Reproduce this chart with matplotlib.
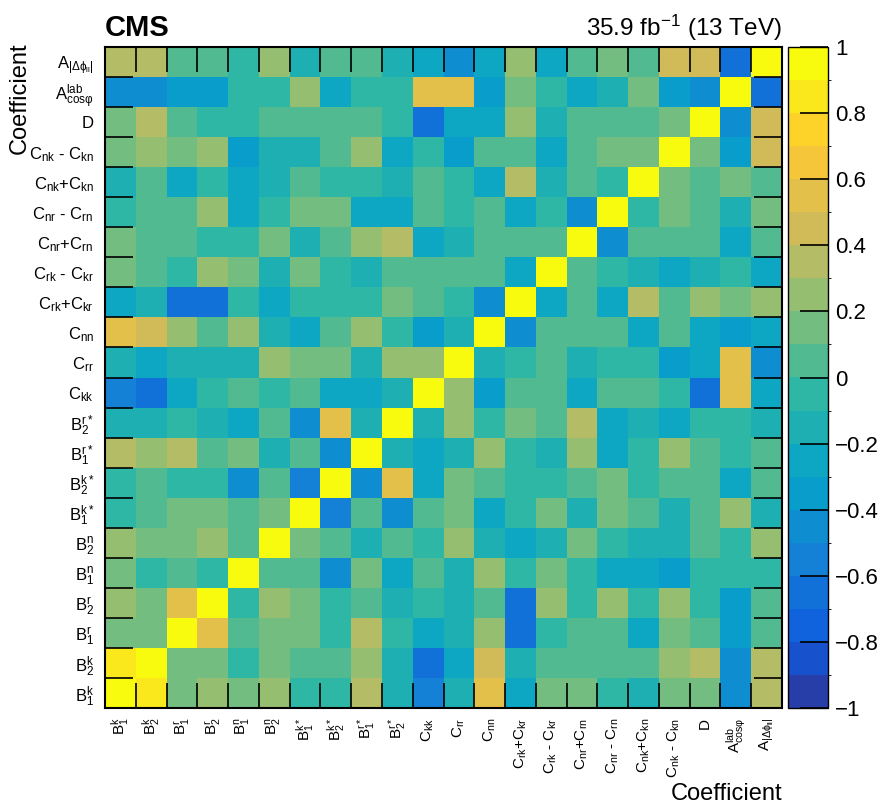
import numpy as np
import matplotlib
matplotlib.use("Agg")
import matplotlib.pyplot as plt
from matplotlib.colors import ListedColormap, BoundaryNorm

plt.rcParams['font.family'] = ['Liberation Sans', 'DejaVu Sans']
plt.rcParams['mathtext.fontset'] = 'custom'
plt.rcParams['mathtext.rm'] = 'Liberation Sans'
plt.rcParams['mathtext.it'] = 'Liberation Sans:italic'
plt.rcParams['mathtext.bf'] = 'Liberation Sans:bold'
plt.rcParams['mathtext.default'] = 'rm'

x_labels = [r'$B^{k}_{1}$', r'$B^{k}_{2}$', r'$B^{r}_{1}$', r'$B^{r}_{2}$',
            r'$B^{n}_{1}$', r'$B^{n}_{2}$', r'$B^{k*}_{1}$', r'$B^{k*}_{2}$',
            r'$B^{r*}_{1}$', r'$B^{r*}_{2}$', r'$C_{kk}$', r'$C_{rr}$', r'$C_{nn}$',
            r'$C_{rk}$+$C_{kr}$', r'$C_{rk}$ - $C_{kr}$', r'$C_{nr}$+$C_{rn}$',
            r'$C_{nr}$ - $C_{rn}$', r'$C_{nk}$+$C_{kn}$', r'$C_{nk}$ - $C_{kn}$',
            'D', r'$A^{lab}_{cos\varphi}$', r'$A_{|\Delta\phi_{ll}|}$']
y_labels = x_labels

row_B1k = [1, 0.85, 0.15, 0.25, 0.15, 0.25, -0.05, -0.05, 0.35, -0.15, -0.55, -0.15, 0.55, -0.25, 0.15, 0.15, -0.05, -0.15, 0.15, 0.15, -0.45, 0.35]
row_B2k = [0.85, 1, 0.15, 0.15, -0.05, 0.15, 0.05, 0.05, 0.25, -0.15, -0.65, -0.25, 0.45, -0.15, 0.05, 0.05, 0.05, 0.05, 0.25, 0.35, -0.45, 0.35]
row_B1r = [0.15, 0.15, 1, 0.55, 0.05, 0.15, 0.15, -0.05, 0.35, -0.05, -0.25, -0.15, 0.25, -0.65, -0.05, 0.05, 0.05, -0.25, 0.15, 0.05, -0.35, 0.05]
row_B2r = [0.25, 0.15, 0.55, 1, -0.05, 0.25, 0.15, -0.05, 0.05, -0.15, -0.05, -0.15, 0.05, -0.65, 0.25, -0.05, 0.25, -0.05, 0.25, -0.05, -0.35, 0.05]
row_B1n = [0.15, -0.05, 0.05, -0.05, 1, 0.05, 0.05, -0.45, 0.15, -0.25, 0.05, -0.15, 0.25, -0.05, 0.15, -0.05, -0.25, -0.25, -0.35, -0.05, -0.05, -0.05]
row_B2n = [0.25, 0.15, 0.15, 0.25, 0.05, 1, 0.15, 0.05, -0.15, 0.05, -0.05, 0.25, -0.15, -0.25, -0.15, 0.15, -0.05, -0.15, -0.15, 0.05, -0.05, 0.25]
row_B1ks = [-0.05, 0.05, 0.15, 0.15, 0.05, 0.15, 1, -0.55, 0.05, -0.45, 0.05, 0.15, -0.25, -0.05, 0.15, -0.15, 0.15, 0.05, -0.15, 0.05, 0.25, -0.15]
row_B2ks = [-0.05, 0.05, -0.05, -0.05, -0.45, 0.05, -0.55, 1, -0.45, 0.55, -0.25, 0.15, 0.05, -0.05, -0.05, 0.05, 0.15, -0.05, 0.05, 0.05, -0.25, 0.05]
row_B1rs = [0.35, 0.25, 0.35, 0.05, 0.15, -0.15, 0.05, -0.45, 1, -0.15, -0.25, -0.15, 0.25, -0.05, -0.15, 0.25, -0.25, -0.05, 0.25, 0.05, -0.05, 0.05]
row_B2rs = [-0.15, -0.15, -0.05, -0.15, -0.25, 0.05, -0.45, 0.55, -0.15, 1, -0.15, 0.25, -0.05, 0.15, 0.05, 0.35, -0.25, -0.15, -0.25, -0.05, -0.05, -0.15]
row_Ckk = [-0.55, -0.65, -0.25, -0.05, 0.05, -0.05, 0.05, -0.25, -0.25, -0.15, 1, 0.25, -0.35, 0.05, 0.05, -0.25, 0.05, 0.05, -0.05, -0.65, 0.55, -0.25]
row_Crr = [-0.15, -0.25, -0.15, -0.15, -0.15, 0.25, 0.15, 0.15, -0.15, 0.25, 0.25, 1, -0.15, -0.05, 0.05, -0.15, -0.05, -0.05, -0.35, -0.25, 0.55, -0.45]
row_Cnn = [0.55, 0.45, 0.25, 0.05, 0.25, -0.15, -0.25, 0.05, 0.25, -0.05, -0.35, -0.15, 1, -0.45, 0.05, 0.05, 0.05, -0.25, 0.05, -0.25, -0.35, -0.25]
row_CrkP = [-0.25, -0.15, -0.65, -0.65, -0.05, -0.25, -0.05, -0.05, -0.05, 0.15, 0.05, -0.05, -0.45, 1, -0.25, 0.05, -0.25, 0.35, 0.05, 0.25, 0.15, 0.25]
row_CrkM = [0.15, 0.05, -0.05, 0.25, 0.15, -0.15, 0.15, -0.05, -0.15, 0.05, 0.05, 0.05, 0.05, -0.25, 1, 0.05, -0.05, -0.15, -0.25, -0.15, -0.05, -0.25]
row_CnrP = [0.15, 0.05, 0.05, -0.05, -0.05, 0.15, -0.15, 0.05, 0.25, 0.35, -0.25, -0.15, 0.05, 0.05, 0.05, 1, -0.45, 0.05, 0.05, 0.05, -0.25, 0.05]
row_CnrM = [-0.05, 0.05, 0.05, 0.25, -0.25, -0.05, 0.15, 0.15, -0.25, -0.25, 0.05, -0.05, 0.05, -0.25, -0.05, -0.45, 1, -0.05, 0.15, 0.05, -0.15, 0.15]
row_CnkP = [-0.15, 0.05, -0.25, -0.05, -0.25, -0.15, 0.05, -0.05, -0.05, -0.15, 0.05, -0.05, -0.25, 0.35, -0.15, 0.05, -0.05, 1, 0.15, 0.05, 0.15, 0.05]
row_CnkM = [0.15, 0.25, 0.15, 0.25, -0.35, -0.15, -0.15, 0.05, 0.25, -0.25, -0.05, -0.35, 0.05, 0.05, -0.25, 0.05, 0.15, 0.15, 1, 0.15, -0.35, 0.45]
row_D = [0.15, 0.35, 0.05, -0.05, -0.05, 0.05, 0.05, 0.05, 0.05, -0.05, -0.65, -0.25, -0.25, 0.25, -0.15, 0.05, 0.05, 0.05, 0.15, 1, -0.45, 0.45]
row_Acos = [-0.45, -0.45, -0.35, -0.35, -0.05, -0.05, 0.25, -0.25, -0.05, -0.05, 0.55, 0.55, -0.35, 0.15, -0.05, -0.25, -0.15, 0.15, -0.35, -0.45, 1, -0.65]
row_Adphi = [0.35, 0.35, 0.05, 0.05, -0.05, 0.25, -0.15, 0.05, 0.05, -0.15, -0.25, -0.45, -0.25, 0.25, -0.25, 0.05, 0.15, 0.05, 0.45, 0.45, -0.65, 1]

corr = np.array([row_B1k, row_B2k, row_B1r, row_B2r, row_B1n, row_B2n, row_B1ks,
                 row_B2ks, row_B1rs, row_B2rs, row_Ckk, row_Crr, row_Cnn, row_CrkP,
                 row_CrkM, row_CnrP, row_CnrM, row_CnkP, row_CnkM, row_D, row_Acos,
                 row_Adphi])

# ROOT kBird palette, 20 contour levels
stops = [0.0, 0.125, 0.25, 0.375, 0.5, 0.625, 0.75, 0.875, 1.0]
red = [0.2082, 0.0592, 0.0780, 0.0232, 0.1802, 0.5301, 0.8186, 0.9956, 0.9764]
green = [0.1664, 0.3599, 0.5041, 0.6419, 0.7178, 0.7492, 0.7328, 0.7862, 0.9832]
blue = [0.5293, 0.8684, 0.8385, 0.7914, 0.6425, 0.4662, 0.3499, 0.1968, 0.0539]
nlev = 20
cols = []
for i in range(nlev):
    t = int((i + 0.99) * 255 / nlev) / 254.0
    cols.append((np.interp(t, stops, red), np.interp(t, stops, green), np.interp(t, stops, blue)))
cmap = ListedColormap(cols)
cmap.set_over(cols[-1])
cmap.set_under(cols[0])
levels = np.linspace(-1, 1, nlev + 1)
norm = BoundaryNorm(levels, nlev)

W, H = 882, 805
fig = plt.figure(figsize=(W / 100, H / 100), dpi=100)
L, R, T, B = 105, 782, 47, 708
ax = fig.add_axes([L / W, 1 - B / H, (R - L) / W, (B - T) / H])
n = len(x_labels)
edges = np.arange(n + 1)
mesh = ax.pcolormesh(edges, edges, corr, cmap=cmap, norm=norm)
ax.set_xlim(0, n)
ax.set_ylim(0, n)

centers = np.arange(n) + 0.5
ax.set_xticks(centers)
ax.set_xticklabels(x_labels, rotation=90, fontsize=11, va='top', ha='center')
ax.set_yticks(centers)
ax.set_yticklabels(y_labels, fontsize=12)
ax.tick_params(axis='both', which='major', length=0)
ax.tick_params(axis='x', which='major', pad=7)
ax.tick_params(axis='y', which='major', pad=8)
ax.set_xticks(edges[1:-1], minor=True)
ax.set_yticks(edges[1:-1], minor=True)
ax.tick_params(axis='x', which='minor', direction='in', length=18, width=1.2,
               top=True, bottom=True, color='black')
ax.tick_params(axis='y', which='minor', direction='in', length=20, width=1.2,
               left=True, right=True, color='black')
for s in ax.spines.values():
    s.set_linewidth(1.5)

cax = fig.add_axes([788 / W, 1 - B / H, 40 / W, (B - T) / H])
cb = fig.colorbar(mesh, cax=cax, ticks=np.linspace(-1, 1, 11))
cb.outline.set_linewidth(1.0)
cax.tick_params(axis='y', direction='in', length=20, width=1.2, labelsize=16, pad=5)
cax.set_yticklabels([('%g' % v).replace('-', '\u2212') for v in np.round(np.linspace(-1, 1, 11), 1)])

fig.text(L / W, 1 - 28 / H, 'CMS', fontsize=21, fontweight='bold', ha='left', va='center')
fig.text(R / W, 1 - 28 / H, r'35.9 fb$^{-1}$ (13 TeV)', fontsize=17.5, ha='right', va='center')
fig.text(R / W, 1 - 794 / H, 'Coefficient', fontsize=17, ha='right', va='center')
fig.text(20 / W, 1 - 42 / H, 'Coefficient', fontsize=17, ha='center', va='top', rotation=90)

fig.savefig('out.png', dpi=100)
